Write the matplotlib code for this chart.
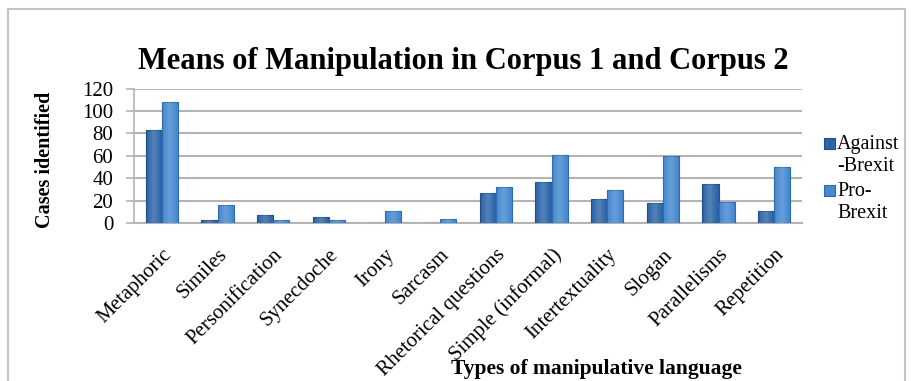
import matplotlib
matplotlib.use("Agg")
import matplotlib.pyplot as plt
import matplotlib.patches as mpatches
import numpy as np

categories = ["Metaphoric", "Similes", "Personification", "Synecdoche", "Irony",
              "Sarcasm", "Rhetorical questions", "Simple (informal)",
              "Intertextuality", "Slogan", "Parallelisms", "Repetition"]
against_brexit = [83, 3, 7, 5, 0, 0, 27, 37, 21, 18, 35, 11]
pro_brexit = [108, 16, 3, 3, 11, 4, 32, 61, 29, 60, 19, 50]
yticks = [0, 20, 40, 60, 80, 100, 120]
series_labels = ["Against\n-Brexit", "Pro-\nBrexit"]

DARK, LIGHT = "#2C66A8", "#4689D0"
GRID = "#b4b4b4"

plt.rcParams["font.family"] = "Liberation Serif"

W, H = 916, 381
fig = plt.figure(figsize=(W / 100, H / 100), dpi=100)
fig.patch.set_facecolor("white")

# outer chart frame
fig.patches.append(mpatches.Rectangle((8 / W, -0.05), 905 / W - 8 / W, (H - 9) / H + 0.05,
                                      transform=fig.transFigure, fill=False,
                                      edgecolor="#c4c4c4", lw=1.5))

ax = fig.add_axes([134 / W, 1 - 223 / H, (802 - 134) / W, (223 - 88.5) / H])
x = np.arange(len(categories))
bw = 0.29
for off, vals, col, edge in [(-bw / 2, against_brexit, DARK, "#1f4f86"),
                             (bw / 2, pro_brexit, LIGHT, "#2f6aad")]:
    ax.bar(x + off, vals, bw, color=col, edgecolor=edge, lw=0.8, zorder=3)
    # soft highlight down the middle of each bar
    for frac in (0.75, 0.5, 0.25):
        ax.bar(x + off, vals, bw * frac, color="white", alpha=0.06, lw=0, zorder=4)

ax.set_xlim(-0.5, len(categories) - 0.5)
ax.set_ylim(0, 120)
ax.set_yticks(yticks)
ax.set_yticklabels([str(v) for v in yticks], fontsize=15)
ax.set_xticks(x)
ax.set_xticklabels(categories, rotation=45, ha="right", rotation_mode="anchor", fontsize=15)
ax.tick_params(axis="x", length=0, pad=16)
ax.tick_params(axis="y", length=6, width=1.2, color=GRID, pad=9)
ax.grid(True, axis="y", color=GRID, lw=1.5, zorder=0)
for side in ("top", "right"):
    ax.spines[side].set_visible(False)
ax.spines["left"].set_color(GRID)
ax.spines["left"].set_linewidth(1.2)
ax.spines["bottom"].set_color(GRID)
ax.spines["bottom"].set_linewidth(1.5)

fig.text(463 / W, 1 - 61 / H, "Means of Manipulation in Corpus 1 and Corpus 2",
         ha="center", va="center", fontsize=22, fontweight="bold")
fig.text(45 / W, 1 - 160 / H, "Cases identified", rotation=90, ha="center", va="center",
         fontsize=14.5, fontweight="bold")
fig.text(596 / W, 1 - 369 / H, "Types of manipulative language", ha="center", va="center",
         fontsize=15.5, fontweight="bold")

# legend: square key aligned with the first line of each label
for top, label, col, edge in [(138, series_labels[0], DARK, "#1f4f86"),
                              (185, series_labels[1], LIGHT, "#2f6aad")]:
    fig.patches.append(mpatches.Rectangle((824 / W, 1 - (top + 11) / H), 11 / W, 11 / H,
                                          transform=fig.transFigure, facecolor=col,
                                          edgecolor=edge, lw=0.8))
    fig.text(837 / W, 1 - (top - 3) / H, label, ha="left", va="top",
             fontsize=14.5, linespacing=1.2)

fig.savefig("out.png", dpi=100, facecolor="white")
